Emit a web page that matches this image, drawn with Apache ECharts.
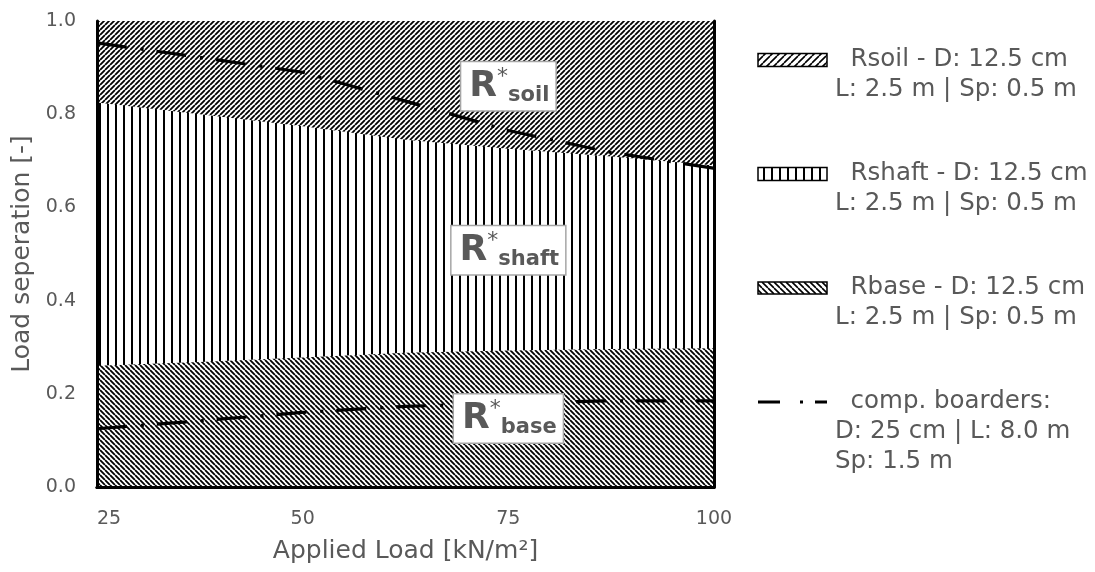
<!DOCTYPE html>
<html>
<head>
<meta charset="utf-8">
<script src="https://cdn.jsdelivr.net/npm/echarts@6/dist/echarts.min.js"></script>
<style>
  html, body { margin: 0; padding: 0; background: #fff; }
  #chart { width: 1095px; height: 572px; }
</style>
</head>
<body>
<div id="chart"></div>
<script>
// Applied load steps [kN/m²]
const loads = [25, 37.5, 50, 62.5, 75, 87.5, 100];
// Upper edges of the three stacked load shares
const soilTop  = [1.000, 1.000, 1.000, 1.000, 1.000, 1.000, 1.000];
const shaftTop = [0.825, 0.800, 0.774, 0.745, 0.726, 0.709, 0.690];
const baseTop  = [0.260, 0.268, 0.278, 0.288, 0.293, 0.296, 0.298];
// Component borders of the comparison pile (D 25 cm, L 8.0 m, Sp 1.5 m)
const compUpper = [0.953, 0.922, 0.890, 0.828, 0.765, 0.718, 0.684];
const compLower = [0.125, 0.142, 0.160, 0.173, 0.180, 0.185, 0.185];
// Axis ticks
const xTicks = [25, 50, 75, 100];
const yTicks = [0.0, 0.2, 0.4, 0.6, 0.8, 1.0];
// Zone captions: subscript, anchor load, anchor share
const zoneNames  = ['soil', 'shaft', 'base'];
const zoneLoads  = [75, 75, 75];
const zoneValues = [0.86, 0.508, 0.147];
// Legend entries
const legendSoil  = ['  Rsoil - D: 12.5 cm', 'L: 2.5 m | Sp: 0.5 m'];
const legendShaft = ['  Rshaft - D: 12.5 cm', 'L: 2.5 m | Sp: 0.5 m'];
const legendBase  = ['  Rbase - D: 12.5 cm', 'L: 2.5 m | Sp: 0.5 m'];
const legendComp  = ['  comp. boarders:', 'D: 25 cm | L: 8.0 m', 'Sp: 1.5 m'];

const FONT = 'DejaVu Sans';
const GREY = '#595959';

// Opaque hatch tiles
function hatchTile(kind, p, lw) {
  const c = document.createElement('canvas');
  c.width = p; c.height = p;
  const g = c.getContext('2d');
  g.fillStyle = '#fff';
  g.fillRect(0, 0, p, p);
  g.fillStyle = '#000';
  g.strokeStyle = '#000';
  g.lineWidth = lw;
  if (kind === 'vertical') {
    g.fillRect(Math.floor((p - lw) / 2), 0, lw, p);
  } else {
    g.beginPath();
    for (const o of [-p, 0, p]) {
      if (kind === 'up') { g.moveTo(o, p); g.lineTo(o + p, 0); }
      else { g.moveTo(o, 0); g.lineTo(o + p, p); }
    }
    g.stroke();
  }
  return { image: c, repeat: 'repeat' };
}

const soilFill  = hatchTile('up', 5, 1.8);
const shaftFill = hatchTile('vertical', 8, 2);
const baseFill  = hatchTile('down', 5, 1.8);

const pairs = arr => loads.map((x, i) => [x, arr[i]]);

function areaSeries(name, arr, fill, z) {
  return {
    name, type: 'line', data: pairs(arr), z,
    symbol: 'none', smooth: false,
    lineStyle: { width: 0 },
    areaStyle: { color: fill, opacity: 1, origin: 'start' },
    silent: true
  };
}

function compSeries(name, arr) {
  return {
    name, type: 'line', data: pairs(arr), z: 6,
    symbol: 'none', smooth: false,
    lineStyle: { color: '#000', width: 3.2, type: [30, 14, 3, 13], cap: 'butt' },
    silent: true
  };
}

const zoneData = zoneNames.map((n, i) => ({ value: [zoneLoads[i], zoneValues[i]], sub: n }));

// Legend drawn as graphic elements
const LX = 758, TX = 835, LW = 69;
function legendBlock(top, lines, iconFill, iconH) {
  const els = [];
  if (iconFill) {
    els.push({ type: 'rect', shape: { x: LX, y: top - iconH / 2, width: LW, height: iconH },
      style: { fill: iconFill, stroke: '#000', lineWidth: 1.5 } });
  } else {
    els.push({ type: 'line', shape: { x1: LX, y1: top, x2: LX + LW, y2: top },
      style: { stroke: '#000', lineWidth: 3, lineDash: [22, 20, 3, 12] } });
  }
  lines.forEach((t, i) => {
    els.push({ type: 'text', x: TX, y: top + i * 30,
      style: { text: t, font: `24.5px "${FONT}"`, fill: GREY, textVerticalAlign: 'middle', textAlign: 'left' } });
  });
  return els;
}

const chart = echarts.init(document.getElementById('chart'), null, { renderer: 'canvas' });
chart.setOption({
  animation: false,
  backgroundColor: '#fff',
  grid: { left: 97, right: 381, top: 21, bottom: 85, containLabel: false },
  xAxis: [{
    type: 'value', min: xTicks[0], max: xTicks[xTicks.length - 1], interval: xTicks[1] - xTicks[0],
    name: 'Applied Load [kN/m²]', nameLocation: 'middle', nameGap: 52,
    nameTextStyle: { fontFamily: FONT, fontSize: 25, color: GREY },
    axisLine: { show: true, lineStyle: { color: '#000', width: 3 } },
    axisTick: { show: false },
    splitLine: { show: false },
    axisLabel: { fontFamily: FONT, fontSize: 19, color: GREY, margin: 23, alignMinLabel: 'left' },
    z: 10
  }, {
    type: 'value', position: 'top', min: xTicks[0], max: xTicks[xTicks.length - 1],
    axisLine: { show: true, lineStyle: { color: '#000', width: 3 } },
    axisTick: { show: false }, axisLabel: { show: false }, splitLine: { show: false }, z: 10
  }],
  yAxis: [{
    type: 'value', min: yTicks[0], max: yTicks[yTicks.length - 1], interval: yTicks[1] - yTicks[0],
    name: 'Load seperation [-]', nameLocation: 'middle', nameGap: 57, nameRotate: 90,
    nameTextStyle: { fontFamily: FONT, fontSize: 25, color: GREY },
    axisLine: { show: true, lineStyle: { color: '#000', width: 3 } },
    axisTick: { show: false },
    splitLine: { show: false },
    axisLabel: { fontFamily: FONT, fontSize: 19, color: GREY, margin: 21, formatter: v => v.toFixed(1) },
    z: 10
  }, {
    type: 'value', position: 'right', min: yTicks[0], max: yTicks[yTicks.length - 1],
    axisLine: { show: true, lineStyle: { color: '#000', width: 3 } },
    axisTick: { show: false }, axisLabel: { show: false }, splitLine: { show: false }, z: 10
  }],
  series: [
    areaSeries('Rsoil', soilTop, soilFill, 2),
    areaSeries('Rshaft', shaftTop, shaftFill, 3),
    areaSeries('Rbase', baseTop, baseFill, 4),
    compSeries('comp. upper', compUpper),
    compSeries('comp. lower', compLower),
    {
      name: 'zones', type: 'scatter', data: zoneData, z: 8, silent: true,
      symbolSize: 0, itemStyle: { color: '#fff', opacity: 1 },
      label: {
        show: true, position: 'inside', opacity: 1,
        formatter: p => `{r|R}{s|*}{b|${p.data.sub}}`,
        backgroundColor: '#fff', borderColor: '#a6a6a6', borderWidth: 1.5,
        padding: [4, 6, 4, 8],
        rich: {
          r: { fontFamily: FONT, fontSize: 36, fontWeight: 'bold', color: GREY, lineHeight: 40, verticalAlign: 'middle' },
          s: { fontFamily: FONT, fontSize: 22, color: GREY, lineHeight: 30, verticalAlign: 'top' },
          b: { fontFamily: FONT, fontSize: 21, fontWeight: 'bold', color: GREY, lineHeight: 20, verticalAlign: 'bottom' }
        }
      },
      emphasis: { disabled: true }
    }
  ],
  graphic: [].concat(
    legendBlock(60, legendSoil, hatchTile('up', 7, 1.6), 13),
    legendBlock(174, legendShaft, hatchTile('vertical', 8, 2), 13),
    legendBlock(288, legendBase, hatchTile('down', 6, 1.6), 12),
    legendBlock(402, legendComp, null, 0)
  )
});
</script>
</body>
</html>
